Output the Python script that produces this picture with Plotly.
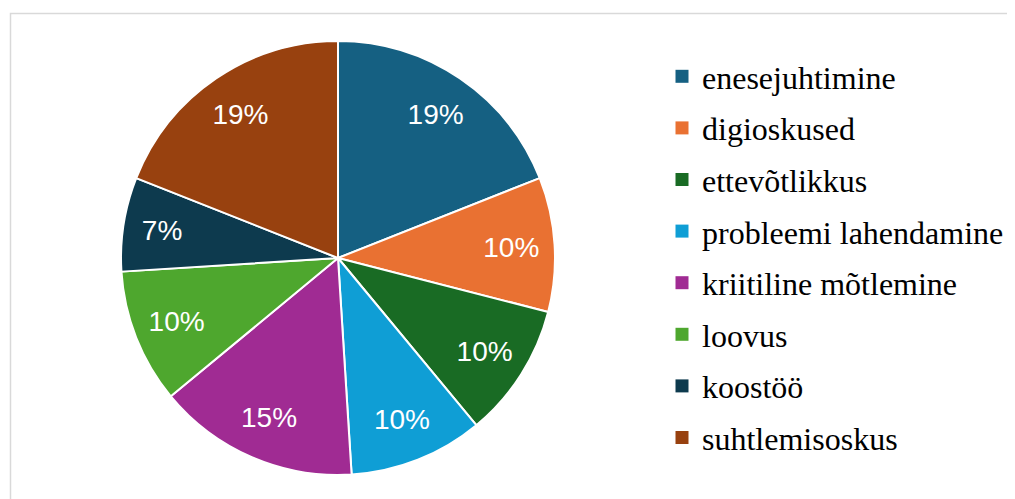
import plotly.graph_objects as go

labels = ["enesejuhtimine", "digioskused", "ettevõtlikkus", "probleemi lahendamine",
          "kriitiline mõtlemine", "loovus", "koostöö", "suhtlemisoskus"]
values = [19, 10, 10, 10, 15, 10, 7, 19]
colors = ["#156082", "#E97132", "#196B24", "#0F9ED5", "#A02B93", "#4EA72E", "#0D3A4E", "#98410F"]

W, H = 1015, 499
OFF = 8  # page body margin
cx, cy, R = 338 - OFF, 258 - OFF, 217
dom = dict(x=[(cx - R) / W, (cx + R) / W], y=[1 - (cy + R) / H, 1 - (cy - R) / H])

fig = go.Figure()
# coloured slices
fig.add_trace(go.Pie(
    labels=labels, values=values, sort=False, direction="clockwise", rotation=0,
    marker=dict(colors=colors, line=dict(color="white", width=2)),
    textinfo="none", domain=dom, showlegend=False, hoverinfo="label+percent",
))
# percentage labels placed in the outer ring
fig.add_trace(go.Pie(
    labels=labels, values=values, sort=False, direction="clockwise", rotation=0,
    hole=0.6,
    marker=dict(colors=["rgba(0,0,0,0)"] * len(labels), line=dict(width=0)),
    texttemplate="%{percent:.0%}", textposition="inside",
    insidetextorientation="horizontal",
    insidetextfont=dict(family="Liberation Sans, Arial", size=28, color="white"),
    domain=dom, showlegend=False, hoverinfo="skip",
))
for lab, col in zip(labels, colors):
    fig.add_trace(go.Scatter(
        x=[None], y=[None], mode="markers", name=lab, legendgroup=lab,
        marker=dict(symbol="square", size=13, color=col), showlegend=True,
    ))

fig.update_layout(
    width=W, height=H, margin=dict(l=0, r=0, t=0, b=0),
    paper_bgcolor="white", plot_bgcolor="white",
    xaxis=dict(visible=False), yaxis=dict(visible=False),
    legend=dict(x=(695 - 41) / W, y=1 - 41 / H, xanchor="left", yanchor="top",
                font=dict(family="Liberation Serif", size=32, color="#000000"),
                tracegroupgap=7, bgcolor="rgba(0,0,0,0)"),
    shapes=[dict(type="rect", xref="paper", yref="paper",
                 x0=2.5 / W, x1=1.02, y0=-0.02, y1=1 - 5.5 / H,
                 line=dict(color="#D9D9D9", width=1.5), fillcolor="rgba(0,0,0,0)", layer="below")],
)
fig.write_html("out.html")
